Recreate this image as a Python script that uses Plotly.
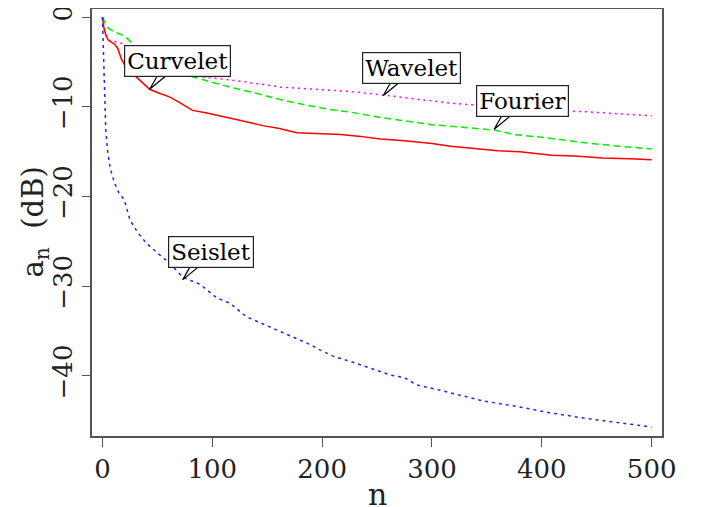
import plotly.graph_objects as go

# ---- data ----
curvelet_n = [0, 1, 3, 5, 8, 11, 14, 17, 20, 25, 31, 37, 43, 50, 61, 70, 82, 95, 107, 125, 146, 160, 177,
              195, 217, 235, 253, 275, 300, 317, 340, 360, 380, 409, 430, 455, 480, 500]
curvelet_v = [0, -1.0, -2.0, -2.5, -2.8, -3.0, -3.5, -4.6, -5.3, -6.1, -6.7, -7.4, -8.05, -8.4, -8.9, -9.5,
              -10.4, -10.7, -11.0, -11.5, -12.1, -12.4, -12.9, -13.0, -13.1, -13.3, -13.6, -13.8, -14.1,
              -14.4, -14.7, -14.9, -15.0, -15.4, -15.5, -15.7, -15.8, -15.9]

fourier_n = [0, 3, 6, 12, 20, 27, 32, 40, 55, 70, 86, 100, 116, 140, 162, 185, 207, 226, 253, 271, 300,
             330, 357, 375, 400, 439, 470, 500]
fourier_v = [0, -0.8, -1.3, -1.7, -2.1, -2.9, -3.7, -4.5, -5.5, -6.2, -6.8, -7.3, -7.8, -8.5, -9.2, -9.8,
             -10.3, -10.6, -11.2, -11.5, -12.0, -12.3, -12.6, -13.1, -13.4, -14.0, -14.4, -14.7]

wavelet_n = [0, 2, 6, 13, 17, 30, 50, 70, 86, 100, 116, 140, 162, 200, 226, 256, 290, 317, 350, 390, 424,
             460, 500]
wavelet_v = [0, -1.6, -2.6, -2.8, -2.9, -4.0, -5.2, -6.0, -6.6, -6.8, -7.0, -7.4, -7.8, -8.1, -8.3, -8.7,
             -9.2, -9.6, -9.9, -10.2, -10.4, -10.7, -11.0]

seislet_n = [0, 1, 2, 3, 4.6, 7, 11, 15, 20, 25, 32, 40, 50, 61, 73, 89, 104, 116, 131, 153, 171, 189,
             198, 210, 226, 243, 262, 275, 286, 304, 317, 332, 347, 377, 407, 438, 468, 500]
seislet_v = [0, -5, -9.2, -12.5, -14.8, -16.8, -18.5, -19.6, -20.4, -22.6, -24.0, -25.2, -26.3, -27.4,
             -29.0, -29.8, -31.3, -31.9, -33.4, -34.6, -35.6, -36.5, -37.1, -37.8, -38.4, -39.1, -39.9,
             -40.2, -41.0, -41.5, -41.9, -42.3, -42.8, -43.4, -44.1, -44.7, -45.2, -45.7]

x_ticks = [0, 100, 200, 300, 400, 500]
y_ticks = [-40, -30, -20, -10, 0]

# label callouts: text, point on curve (n, value)
label_text = ["Curvelet", "Wavelet", "Fourier", "Seislet"]
label_n = [43, 255.5, 356.6, 73]
label_v = [-8.05, -8.77, -12.5, -29.3]

FONT = "DejaVu Serif"

fig = go.Figure()
fig.add_trace(go.Scatter(x=wavelet_n, y=wavelet_v, mode="lines",
                         line=dict(color="#ff00ff", width=1.5, dash="2px,4px")))
fig.add_trace(go.Scatter(x=fourier_n, y=fourier_v, mode="lines",
                         line=dict(color="#00ee00", width=1.5, dash="7px,4px")))
fig.add_trace(go.Scatter(x=curvelet_n, y=curvelet_v, mode="lines",
                         line=dict(color="#ff0000", width=1.5)))
fig.add_trace(go.Scatter(x=seislet_n, y=seislet_v, mode="lines",
                         line=dict(color="#2222ff", width=1.5, dash="3px,4px")))

for t, n, v in zip(label_text, label_n, label_v):
    fig.add_annotation(x=n, y=v, xref="x", yref="y", text=t, showarrow=False,
                       xshift=28, yshift=28,
                       font=dict(family=FONT, size=23, color="black"),
                       bgcolor="white", bordercolor="#222", borderwidth=1.2, borderpad=2)
    fig.add_shape(type="path", xref="x", yref="y", xsizemode="pixel", ysizemode="pixel",
                  xanchor=n, yanchor=v, path="M8,14 L0,0 L17,14",
                  line=dict(color="black", width=1.2))

# axis titles as annotations
fig.add_annotation(x=0, y=0.5, xref="paper", yref="paper", xanchor="center", yanchor="middle",
                   xshift=-58, text="a<sub>n</sub>  (dB)", textangle=-90, showarrow=False,
                   font=dict(family=FONT, size=29, color="#222"))
fig.add_annotation(x=0.5, y=0, xref="paper", yref="paper", xanchor="center", yanchor="middle",
                   yshift=-58, text="n", showarrow=False,
                   font=dict(family=FONT, size=30, color="#222"))

fig.update_layout(
    width=696, height=499,
    margin=dict(l=84, r=42, t=1, b=71),
    paper_bgcolor="white", plot_bgcolor="white",
    showlegend=False,
    font=dict(family=FONT, size=26, color="#222"),
)
fig.update_xaxes(range=[-9.5, 509.4], tickvals=x_ticks, ticks="outside", ticklen=9, tickcolor="#555",
                 showline=True, mirror=True, linecolor="#555", linewidth=1.5, showgrid=False,
                 zeroline=False, automargin=False, ticklabeloverflow="allow")
fig.update_yaxes(range=[-46.7, 0.9], tickvals=y_ticks, ticks="outside", ticklen=8, tickcolor="#555",
                 tickangle=-90, showline=True, mirror=True, linecolor="#555", linewidth=1.5,
                 showgrid=False, zeroline=False, automargin=False, ticklabeloverflow="allow")

fig.write_html("out.html")
